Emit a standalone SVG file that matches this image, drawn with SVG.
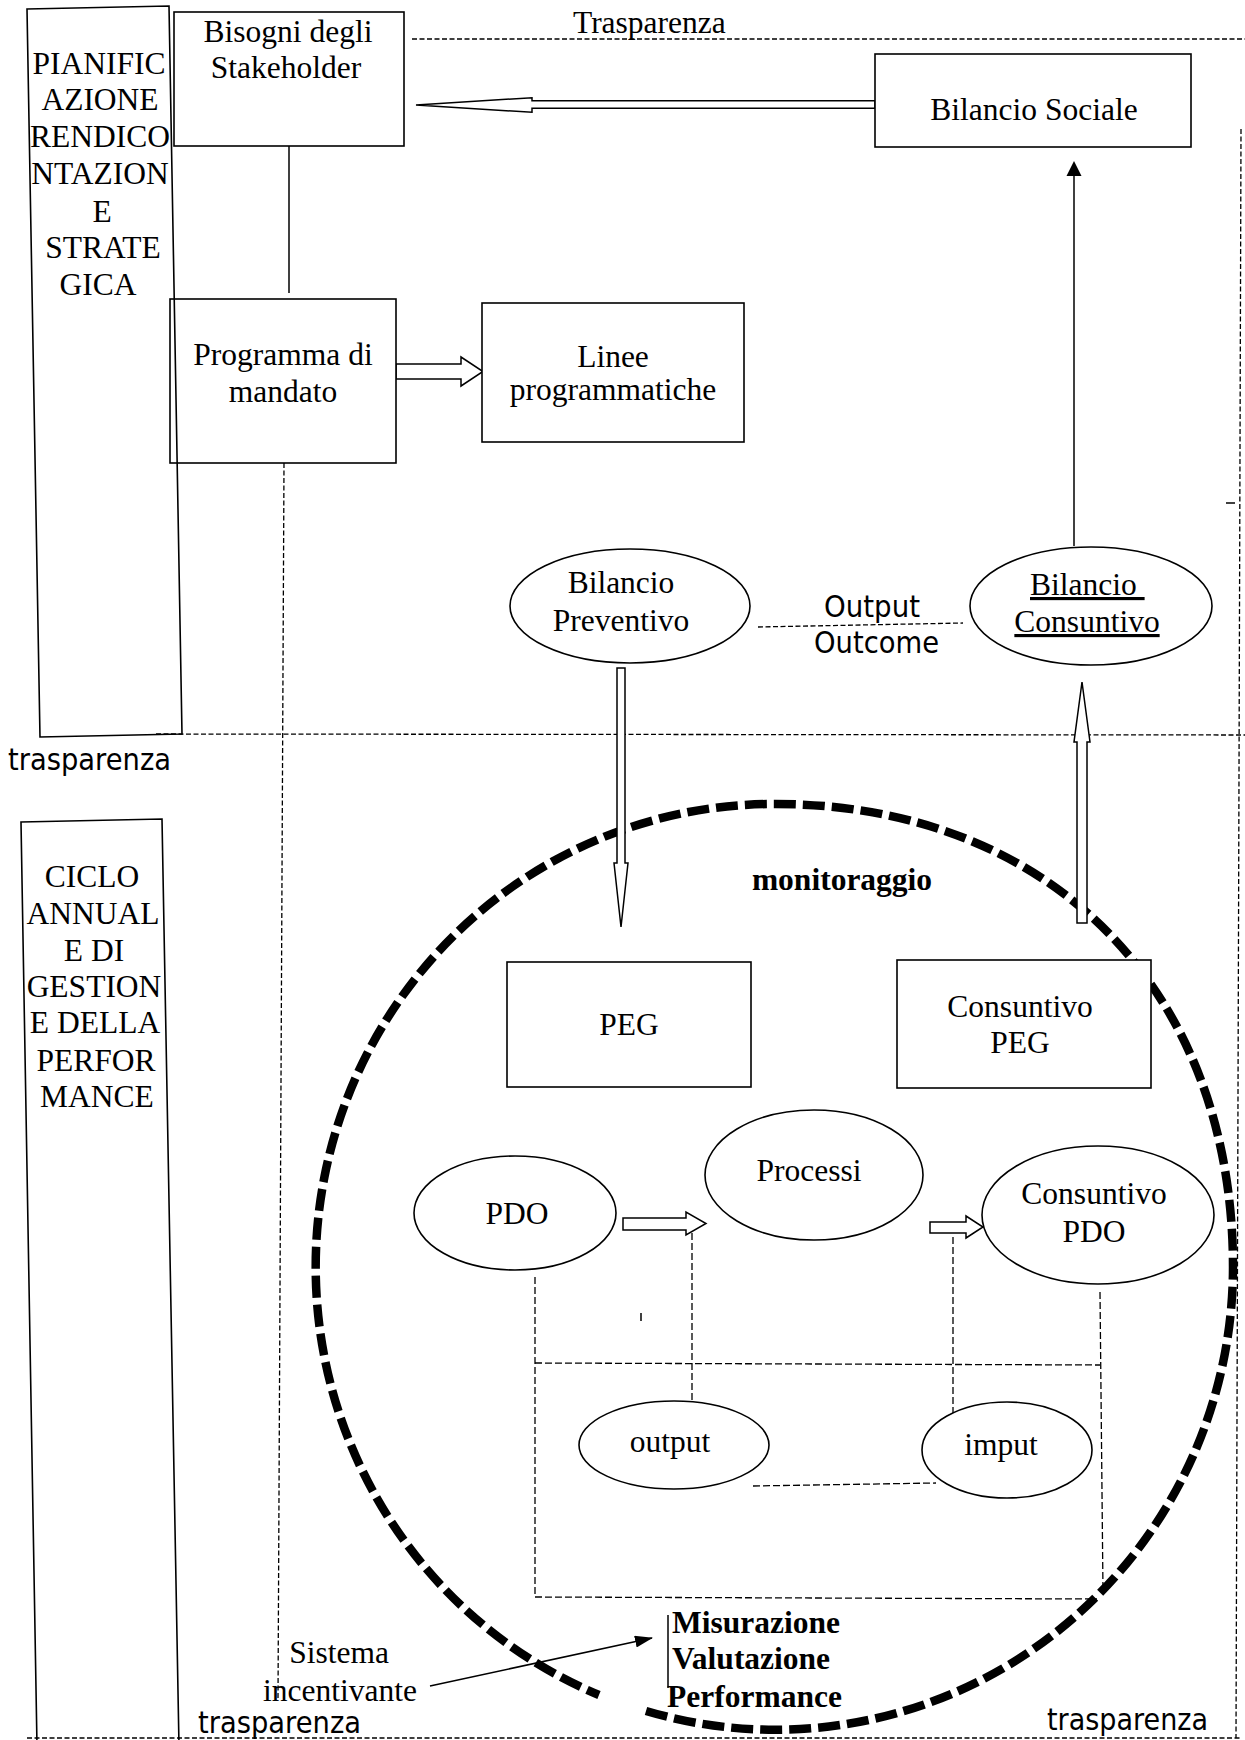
<svg xmlns="http://www.w3.org/2000/svg" width="1245" height="1740" viewBox="0 0 1245 1740">
<style>
.t{font-family:"Liberation Serif","Times New Roman",serif;font-size:31.5px;fill:#000;text-anchor:middle}
.tl{font-family:"Liberation Serif","Times New Roman",serif;font-size:31.5px;fill:#000}
.b{font-weight:bold}
.s{font-family:"DejaVu Sans","Liberation Sans",sans-serif;font-size:31px;fill:#000}
.box{fill:#fff;stroke:#000;stroke-width:1.6}
.frame{fill:none;stroke:#000;stroke-width:1.6}
.ell{fill:#fff;stroke:#000;stroke-width:1.6}
.line{fill:none;stroke:#000;stroke-width:1.5}
.dash{fill:none;stroke:#000;stroke-width:1.3;stroke-dasharray:5 2.5}
.dash2{fill:none;stroke:#000;stroke-width:1.3;stroke-dasharray:7 3}
.ring{fill:none;stroke:#000;stroke-width:8.5;stroke-dasharray:22 7}
.hollow{fill:#fff;stroke:#000;stroke-width:1.5;stroke-linejoin:miter}
</style>
<defs>
<marker id="ah" markerWidth="18" markerHeight="12" refX="17" refY="6" orient="auto" markerUnits="userSpaceOnUse">
<path d="M0,0 L18,6 L0,12 Z" fill="#000"/>
</marker>
</defs>
<rect width="1245" height="1740" fill="#fff"/>

<g id="separators">
<line class="dash" x1="412" y1="39" x2="1245" y2="39"/>
<line class="dash" x1="156" y1="734" x2="1245" y2="735"/>
<line class="dash" x1="27" y1="1738" x2="1240" y2="1738"/>
<line class="dash" x1="1241" y1="129" x2="1236" y2="1738"/>
<text class="tl" x="573" y="33">Trasparenza</text>
<text class="s" x="8" y="770" textLength="163" lengthAdjust="spacingAndGlyphs">trasparenza</text>
<text class="s" x="198" y="1733" textLength="163" lengthAdjust="spacingAndGlyphs">trasparenza</text>
<text class="s" x="1047" y="1730" textLength="161" lengthAdjust="spacingAndGlyphs">trasparenza</text>
<line class="line" x1="1226" y1="503" x2="1235" y2="503"/>
<line class="line" x1="641" y1="1313" x2="641" y2="1321"/>
</g>

<g id="monitoraggio-ring">
<path class="ring" d="M646,1711 A458,463 0 0 0 1233,1267 C1233,990 1050,804 775,804 A458,463 0 0 0 599,1695"/>
<text class="t b" x="842" y="890">monitoraggio</text>
</g>

<g id="connectors">
<line class="line" x1="289" y1="146" x2="289" y2="293"/>
<polygon class="hollow" points="875,100.7 532,100.7 532,97.7 416,105 532,112.3 532,108.3 875,108.3"/>
<polygon class="hollow" points="396,364 461,364 461,357 483,371.5 461,386 461,379 396,379"/>
<line class="line" x1="1074" y1="546" x2="1074" y2="175"/>
<polygon points="1066.5,176 1074,161 1081.5,176" fill="#000"/>
<line class="dash" x1="758" y1="627" x2="963" y2="623"/>
<text class="s" x="824" y="617" textLength="96" lengthAdjust="spacingAndGlyphs">Output</text>
<text class="s" x="814" y="653" textLength="125" lengthAdjust="spacingAndGlyphs">Outcome</text>
<line class="dash" x1="284" y1="463" x2="278" y2="1700"/>
<polygon class="hollow" points="617,668 625,668 625,863 628,863 621,927 614,863 617,863"/>
<polygon class="hollow" points="1077,923 1077,742 1074,742 1082,682 1090,742 1087,742 1087,923"/>
<polygon class="hollow" points="623,1218 686,1218 686,1212 706,1223.5 686,1235 686,1230 623,1230"/>
<polygon class="hollow" points="930,1222 966,1222 966,1216 983,1227 966,1238 966,1233 930,1233"/>
<polyline class="dash2" points="535,1277 535,1597 1097,1599"/>
<line class="dash2" x1="535" y1="1363" x2="1100" y2="1365"/>
<line class="dash2" x1="1100" y1="1292" x2="1103" y2="1592"/>
<line class="dash2" x1="692" y1="1233" x2="692" y2="1402"/>
<line class="dash2" x1="953" y1="1237" x2="953" y2="1422"/>
<line class="dash2" x1="753" y1="1486" x2="936" y2="1483"/>
<line class="line" x1="430" y1="1686" x2="652" y2="1638" marker-end="url(#ah)"/>
<line class="line" x1="668" y1="1615" x2="668" y2="1688"/>
</g>

<g id="bisogni">
<rect class="box" x="174" y="12" width="230" height="134"/>
<text class="t" x="288" y="42">Bisogni degli</text>
<text class="t" x="286" y="78">Stakeholder</text>
</g>
<g id="bilancio-sociale">
<rect class="box" x="875" y="54" width="316" height="93"/>
<text class="t" x="1034" y="120">Bilancio Sociale</text>
</g>
<g id="programma">
<rect class="box" x="170" y="299" width="226" height="164"/>
<text class="t" x="283" y="365">Programma di</text>
<text class="t" x="283" y="402">mandato</text>
</g>
<g id="linee">
<rect class="box" x="482" y="303" width="262" height="139"/>
<text class="t" x="613" y="367">Linee</text>
<text class="t" x="613" y="400">programmatiche</text>
</g>
<g id="pianificazione">
<polygon class="frame" points="27,9 169,6 182,734 40,737"/>
<text class="t" x="99" y="74">PIANIFIC</text>
<text class="t" x="100" y="110">AZIONE</text>
<text class="t" x="100" y="147">RENDICO</text>
<text class="t" x="100" y="184">NTAZION</text>
<text class="t" x="102" y="222">E</text>
<text class="t" x="103" y="258">STRATE</text>
<text class="t" x="98" y="295">GICA</text>
</g>
<g id="ciclo">
<polygon class="frame" points="21,822 162,819 179,1746 37,1746"/>
<text class="t" x="92" y="887">CICLO</text>
<text class="t" x="93" y="924">ANNUAL</text>
<text class="t" x="94" y="961">E DI</text>
<text class="t" x="94" y="997">GESTION</text>
<text class="t" x="95" y="1033">E DELLA</text>
<text class="t" x="96" y="1071">PERFOR</text>
<text class="t" x="97" y="1107">MANCE</text>
</g>
<g id="bilancio-preventivo">
<ellipse class="ell" cx="630" cy="606" rx="120" ry="57"/>
<text class="t" x="621" y="593">Bilancio</text>
<text class="t" x="621" y="631">Preventivo</text>
</g>
<g id="bilancio-consuntivo">
<ellipse class="ell" cx="1091" cy="606" rx="121" ry="59"/>
<text class="tl" x="1030" y="595" text-decoration="underline" xml:space="preserve">Bilancio </text>
<text class="t" x="1087" y="632" text-decoration="underline">Consuntivo</text>
</g>
<g id="peg">
<rect class="box" x="507" y="962" width="244" height="125"/>
<text class="t" x="629" y="1035">PEG</text>
</g>
<g id="consuntivo-peg">
<rect class="box" x="897" y="960" width="254" height="128"/>
<text class="t" x="1020" y="1017">Consuntivo</text>
<text class="t" x="1020" y="1053">PEG</text>
</g>
<g id="pdo">
<ellipse class="ell" cx="515" cy="1213" rx="101" ry="57"/>
<text class="t" x="517" y="1224">PDO</text>
</g>
<g id="processi">
<ellipse class="ell" cx="814" cy="1175" rx="109" ry="65"/>
<text class="t" x="809" y="1181">Processi</text>
</g>
<g id="consuntivo-pdo">
<ellipse class="ell" cx="1098" cy="1215" rx="116" ry="69"/>
<text class="t" x="1094" y="1204">Consuntivo</text>
<text class="t" x="1094" y="1242">PDO</text>
</g>
<g id="output">
<ellipse class="ell" cx="674" cy="1445" rx="95" ry="44"/>
<text class="t" x="670" y="1452">output</text>
</g>
<g id="imput">
<ellipse class="ell" cx="1007" cy="1450" rx="85" ry="48"/>
<text class="t" x="1001" y="1455">imput</text>
</g>
<g id="misurazione">
<text class="tl b" x="672" y="1633">Misurazione</text>
<text class="tl b" x="672" y="1669">Valutazione</text>
<text class="tl b" x="667" y="1707">Performance</text>
</g>
<g id="sistema">
<text class="t" x="339" y="1663">Sistema</text>
<text class="t" x="340" y="1701">incentivante</text>
</g>
</svg>
